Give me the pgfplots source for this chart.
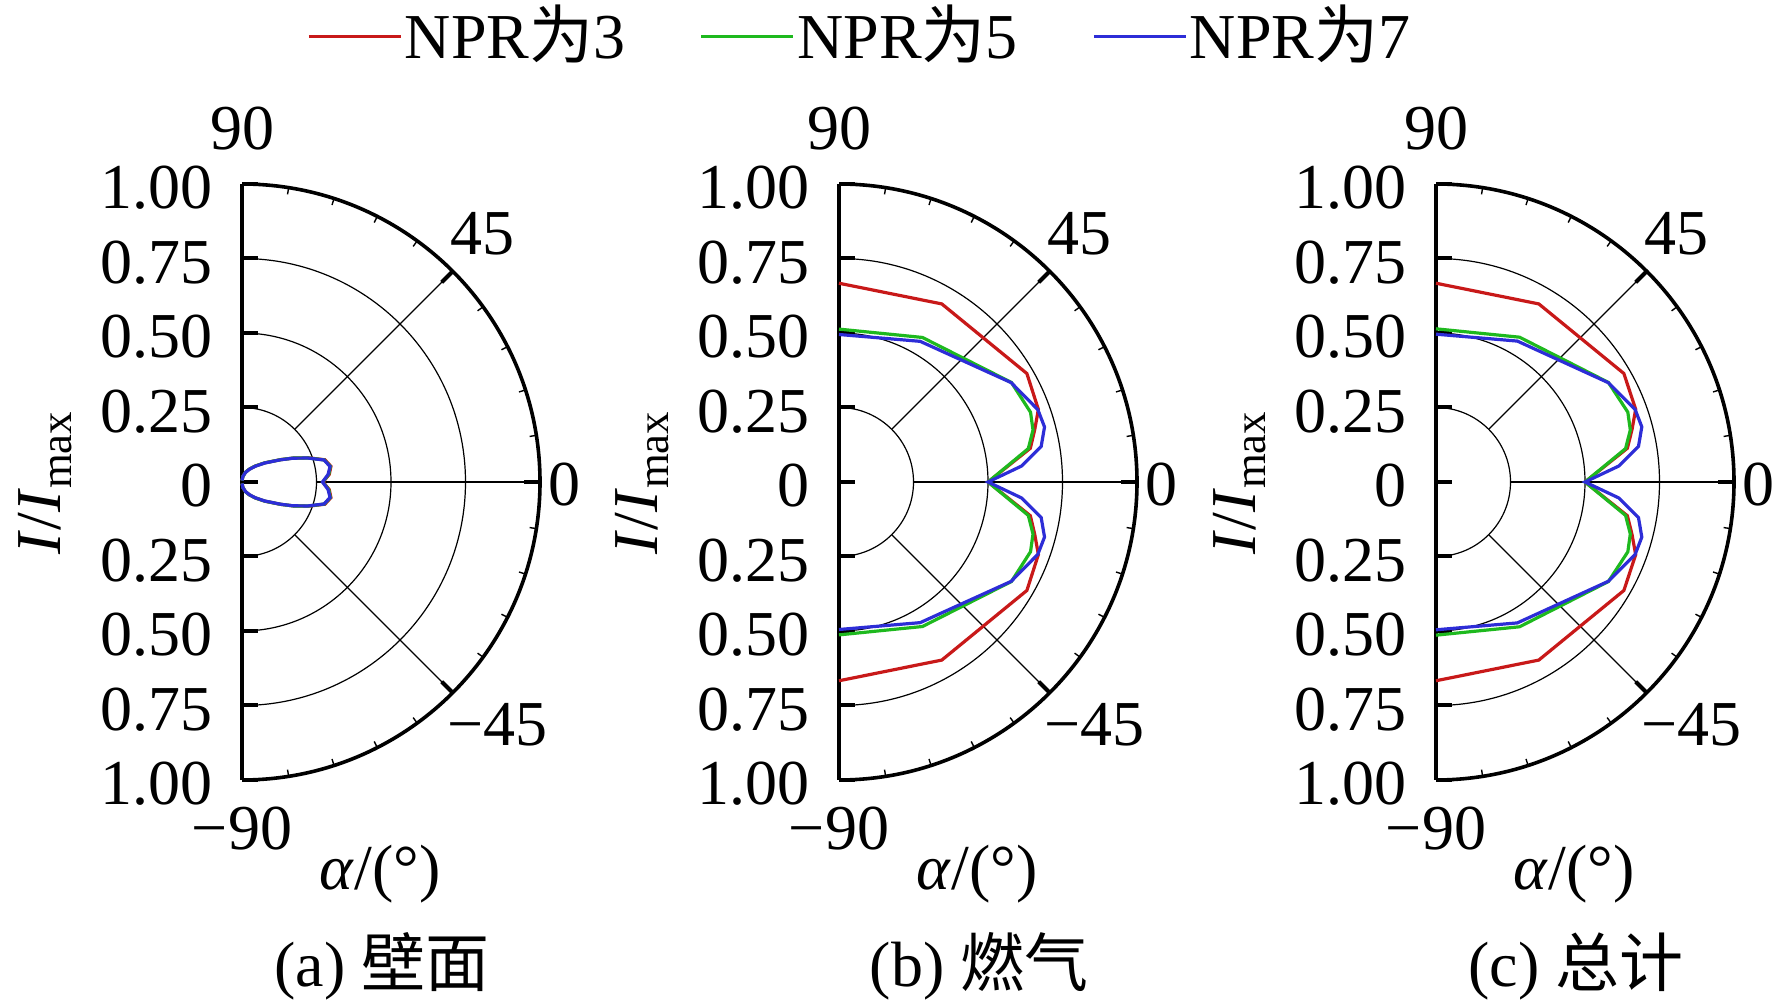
\documentclass[border=0pt]{standalone}
\usepackage{fontspec}
\setmainfont{Liberation Serif}
\newfontfamily\cjk{Noto Sans CJK SC}
\usepackage{pgfplots}
\usepackage{pgfplotstable}
\pgfplotsset{compat=1.18}
\definecolor{cR}{RGB}{200,25,25}
\definecolor{cG}{RGB}{30,185,30}
\definecolor{cB}{RGB}{45,45,215}

% (a) wall
\pgfplotstableread{
a r
90 0.005
80 0.020
70 0.035
60 0.050
50 0.070
40 0.100
30 0.150
25 0.190
20 0.237
15 0.288
10 0.303
5 0.294
0 0.272
-5 0.294
-10 0.303
-15 0.288
-20 0.237
-25 0.190
-30 0.150
-40 0.100
-50 0.070
-60 0.050
-70 0.035
-80 0.020
-90 0.005
}\wallR
\pgfplotstableread{
a r
90 0.005
80 0.020
70 0.035
60 0.050
50 0.070
40 0.100
30 0.150
25 0.190
20 0.236
15 0.286
10 0.301
5 0.292
0 0.271
-5 0.292
-10 0.301
-15 0.286
-20 0.236
-25 0.190
-30 0.150
-40 0.100
-50 0.070
-60 0.050
-70 0.035
-80 0.020
-90 0.005
}\wallG
\pgfplotstableread{
a r
90 0.005
80 0.020
70 0.034
60 0.049
50 0.069
40 0.099
30 0.149
25 0.189
20 0.235
15 0.285
10 0.300
5 0.290
0 0.270
-5 0.290
-10 0.300
-15 0.285
-20 0.235
-25 0.189
-30 0.149
-40 0.099
-50 0.069
-60 0.049
-70 0.034
-80 0.020
-90 0.005
}\wallB

% (b) gas and (c) total
\pgfplotstableread{
a r
90 0.667
60 0.690
30 0.728
20 0.712
15 0.680
10 0.652
0 0.500
-10 0.652
-15 0.680
-20 0.712
-30 0.728
-60 0.690
-90 0.667
}\gasR
\pgfplotstableread{
a r
90 0.513
60 0.560
30 0.668
20 0.684
15 0.674
10 0.645
0 0.500
-10 0.645
-15 0.674
-20 0.684
-30 0.668
-60 0.560
-90 0.513
}\gasG
\pgfplotstableread{
a r
90 0.495
60 0.545
30 0.667
20 0.710
15 0.714
10 0.689
5 0.615
0 0.500
-5 0.615
-10 0.689
-15 0.714
-20 0.710
-30 0.667
-60 0.545
-90 0.495
}\gasB
\pgfplotstableread{
a r
90 0.667
60 0.690
30 0.728
20 0.713
15 0.681
10 0.652
0 0.500
-10 0.652
-15 0.681
-20 0.713
-30 0.728
-60 0.690
-90 0.667
}\totR
\pgfplotstableread{
a r
90 0.514
60 0.561
30 0.668
20 0.685
15 0.675
10 0.646
0 0.500
-10 0.646
-15 0.675
-20 0.685
-30 0.668
-60 0.561
-90 0.514
}\totG
\pgfplotstableread{
a r
90 0.496
60 0.546
30 0.667
20 0.711
15 0.715
10 0.690
5 0.616
0 0.500
-5 0.616
-10 0.690
-15 0.715
-20 0.711
-30 0.667
-60 0.546
-90 0.496
}\totB

\newcommand{\panelgrid}[1]{%
\begin{scope}[shift={(#1,131.5bp)}]
 \foreach \r in {0.25,0.5,0.75}{\draw[line width=0.3bp] (0,{\r*74.5bp}) arc[start angle=90,end angle=-90,radius={\r*74.5bp}];}
 \foreach \a in {45,0,-45}{\draw[line width=0.3bp] (\a:18.625bp) -- (\a:74.5bp);}
\end{scope}}

\newcommand{\panelframe}[1]{%
\begin{scope}[shift={(#1,131.5bp)}]
 \draw[line width=0.9bp] (0,74.5bp) arc[start angle=90,end angle=-90,radius=74.5bp];
 \foreach \a in {45,0,-45}{\draw[line width=1bp] (\a:74.5bp) -- (\a:70.6bp);}
 \foreach \a in {81,72,63,54,36,27,18,9,-9,-18,-27,-36,-54,-63,-72,-81}{\draw[line width=0.35bp] (\a:74.5bp) -- (\a:72.8bp);}
 \node[inner sep=0pt,anchor=base] at (0,83bp) {90};
 \node[inner sep=0pt,anchor=base west] at (52bp,56.75bp) {45};
 \node[inner sep=0pt,anchor=base west] at (76.5bp,-6bp) {0};
 \node[inner sep=0pt,anchor=base west] at (51.2bp,-65.9bp) {−45};
 \node[inner sep=0pt,anchor=base] at (0,-92bp) {−90};
\end{scope}}

\pgfplotsset{panel/.style={
  x=74.5bp, y=74.5bp, xmin=0, xmax=1, ymin=-1, ymax=1, enlargelimits=false, clip=false,
  anchor=west,
  axis x line=bottom, axis y line=left, axis line style={-, line width=1bp, black},
  x axis line style={draw=none},
  xtick=\empty, ytick={-1,-0.75,-0.5,-0.25,0,0.25,0.5,0.75,1},
  yticklabels={1.00,0.75,0.50,0.25,0,0.25,0.50,0.75,1.00},
  tick align=inside, major tick length=4bp,
  every tick/.style={black, line width=1bp},
  yticklabel style={anchor=east, inner sep=0pt, xshift=-7.25bp, yshift=-1bp},
  ylabel={\textit{I}/\textit{I}\textsubscript{max}},
  ylabel style={at={(axis cs:-0.6074,0)}, anchor=base, inner sep=0pt},
  xlabel={\textit{α}/(°)},
  xlabel style={at={(axis cs:0.463,-1.3658)}, anchor=base, inner sep=0pt},
  every axis title shift=0pt,
  title style={at={(axis cs:0.47,-1.6946)}, anchor=base, yshift=0pt, inner sep=0pt},
  every axis plot/.append style={line width=0.8bp},
}}

\begin{document}
\fontsize{16.06}{19}\selectfont
\begin{tikzpicture}
\path[use as bounding box] (0,0) rectangle (443bp,252bp);
\panelgrid{60.5bp}
\panelgrid{209.75bp}
\panelgrid{359bp}

\begin{axis}[panel, at={(60.5bp,131.5bp)}, title={(a) {\cjk 壁面}}]
 \addplot[cR, data cs=polar] table[x=a,y=r]{\wallR};
 \addplot[cG, data cs=polar] table[x=a,y=r]{\wallG};
 \addplot[cB, data cs=polar] table[x=a,y=r]{\wallB};
\end{axis}

\begin{axis}[panel, at={(209.75bp,131.5bp)}, title={(b) {\cjk 燃气}},
  legend columns=3,
  legend style={at={(axis cs:0.0705,1.495)}, anchor=center, draw=none, fill=none,
    inner sep=0pt, nodes={inner sep=0.6bp},
    /tikz/every even column/.append style={column sep=18bp}},
  legend image code/.code={\draw[#1] (0bp,0bp) -- (23bp,0bp);}]
 \addplot[cR, data cs=polar] table[x=a,y=r]{\gasR};
 \addlegendentry{NPR{\cjk 为}3}
 \addplot[cG, data cs=polar] table[x=a,y=r]{\gasG};
 \addlegendentry{NPR{\cjk 为}5}
 \addplot[cB, data cs=polar] table[x=a,y=r]{\gasB};
 \addlegendentry{NPR{\cjk 为}7}
\end{axis}

\begin{axis}[panel, at={(359bp,131.5bp)}, title={(c) {\cjk 总计}}]
 \addplot[cR, data cs=polar] table[x=a,y=r]{\totR};
 \addplot[cG, data cs=polar] table[x=a,y=r]{\totG};
 \addplot[cB, data cs=polar] table[x=a,y=r]{\totB};
\end{axis}

\panelframe{60.5bp}
\panelframe{209.75bp}
\panelframe{359bp}
\end{tikzpicture}
\end{document}
